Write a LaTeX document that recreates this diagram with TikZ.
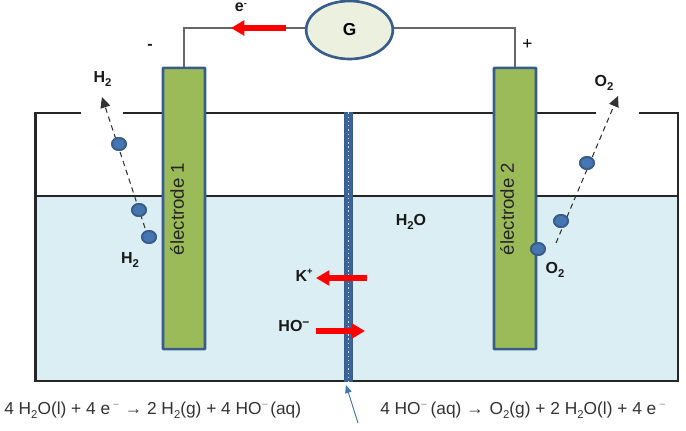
\documentclass[tikz,border=0pt]{standalone}
\usepackage{fontspec}
\setmainfont{Liberation Sans}
\usetikzlibrary{arrows.meta,shapes.geometric}
\definecolor{bluedge}{RGB}{56,93,138}
\definecolor{water}{RGB}{219,238,244}
\definecolor{elecgreen}{RGB}{155,187,89}
\definecolor{gfill}{RGB}{235,241,222}
\definecolor{molfill}{RGB}{70,118,178}
\definecolor{tankline}{RGB}{38,38,38}
\newcommand{\sbb}[1]{\raisebox{-3pt}{\fontsize{8.5}{9}\selectfont #1}}
\newcommand{\spm}{\raisebox{4.5pt}{\fontsize{8.5}{9}\selectfont\textcolor{black!40}{−}}}
\tikzset{
  tank/.style={draw=tankline,line width=1.6pt},
  electrode/.style={draw=bluedge,fill=elecgreen,line width=1.9pt,rounded corners=0.5pt,minimum width=31.5pt,minimum height=211pt,inner sep=0pt},
  molecule/.style={ellipse,draw=bluedge,fill=molfill,line width=1.4pt,minimum width=10.5pt,minimum height=9pt,inner sep=0pt},
  wire/.style={draw=black!60,line width=0.9pt},
  redarrow/.style={-{Triangle[length=10pt,width=11pt]},red,line width=4.3pt},
  gasarrow/.style={dashed,dash pattern=on 4pt off 3pt,-{Triangle[length=8pt,width=7.5pt]},draw=black!80,line width=0.8pt},
  lab/.style={font=\bfseries\fontsize{12}{14}\selectfont,text=black!90,inner sep=0pt},
  eqn/.style={font=\fontsize{13}{15}\selectfont,text=black!80,inner sep=0pt,anchor=base west},
  vlab/.style={font=\fontsize{14}{16}\selectfont,text=black!85,rotate=90,inner sep=0pt}
}
\begin{document}
\begin{tikzpicture}[x=0.75pt,y=-0.75pt]
\useasboundingbox (0,0) rectangle (686,431);
% water and tank
\fill[water] (35.5,196) rectangle (678,381);
\coordinate (tl) at (35.5,113);
\coordinate (tr) at (678,113);
\coordinate (bl) at (35.5,381);
\coordinate (br) at (678,381);
\coordinate (wl) at (35.5,196);
\coordinate (wr) at (678,196);
\coordinate (g1a) at (81,113);
\coordinate (g1b) at (123,113);
\coordinate (g2a) at (596,113);
\coordinate (g2b) at (639,113);
\draw[tank,line join=miter] (g1a) -- (tl) -- (bl) -- (br) -- (tr) -- (g2b);
\draw[tank] (g1b) -- (g2a);
\draw[tank] (wl) -- (wr);
% membrane
\node[draw=bluedge,fill=molfill!85!black,line width=1pt,minimum width=5.8pt,minimum height=201pt,inner sep=0pt] (mem) at (348.5,247) {};
\draw[white!75!molfill,line width=0.7pt,dash pattern=on 1pt off 2.2pt] (mem.north) -- (mem.south);
% electrodes
\node[electrode] (e1) at (184,208.5) {};
\node[electrode] (e2) at (515,208.5) {};
\node[vlab] (e1t) at (177,209) {électrode 1};
\node[vlab] (e2t) at (507,209) {électrode 2};
% galvanometer
\node[ellipse,draw=bluedge,fill=gfill,line width=2pt,minimum width=65pt,minimum height=43.5pt,inner sep=0pt,font=\bfseries\fontsize{13}{15}\selectfont] (G) at (349.5,30) {G};
\coordinate (c1) at (184,28);
\coordinate (c2) at (515,28);
\draw[wire] (e1.north) -- (c1) -- (G.west |- c1);
\draw[wire] (e2.north) -- (c2) -- (G.east |- c2);
% red arrows
\coordinate (ea) at (286,28); \coordinate (eb) at (231,28);
\draw[redarrow] (ea) -- (eb);
\coordinate (ka) at (367,278); \coordinate (kb) at (316,278);
\draw[redarrow] (ka) -- (kb);
\coordinate (ha) at (316,331); \coordinate (hb) at (365,331);
\draw[redarrow] (ha) -- (hb);
% gas
\node[molecule] (m1) at (119,144) {};
\node[molecule] (m2) at (139,210) {};
\node[molecule] (m3) at (149,237) {};
\node[molecule] (m4) at (587,163) {};
\node[molecule] (m5) at (561,221) {};
\node[molecule] (m6) at (538,249) {};
\coordinate (h2s) at (145,228);
\coordinate (h2e) at (102,97);
\coordinate (o2s) at (556,243);
\coordinate (o2e) at (618,96);
\draw[gasarrow] (h2s) -- (h2e);
\draw[gasarrow] (o2s) -- (o2e);
\foreach \m in {m1,m2,m3,m4,m5,m6} \node[molecule] at (\m) {};
% labels
\node[lab] (lh1) at (102.5,79) {H\sbb{2}};
\node[lab] (lo1) at (604,83) {O\sbb{2}};
\node[lab] (lh2) at (130,260) {H\sbb{2}};
\node[lab] (lo2) at (555,270) {O\sbb{2}};
\node[lab] (lw) at (411,222) {H\sbb{2}O};
\node[lab] (lk) at (304,275) {K\raisebox{5pt}{\fontsize{7}{8}\selectfont +}};
\node[lab] (lho) at (294,326) {HO\raisebox{4pt}{\fontsize{9}{9}\selectfont −}};
\node[lab] (le) at (241,7) {e\raisebox{3.5pt}{\fontsize{7}{8}\selectfont -}};
\node[lab] (lm) at (150,47) {-};
\node[inner sep=0pt,font=\fontsize{13}{15}\selectfont,text=black] (lp) at (527.5,45) {+};
% equations
\node[eqn] (eq1) at (4,414) {4 H\sbb{2}O(l) + 4 e\hspace{2pt}\spm\hspace{4pt}→ 2 H\sbb{2}(g) + 4 HO\spm\hspace{1.5pt}(aq)};
\node[eqn] (eq2) at (380,414) {4 HO\spm\hspace{2.5pt}(aq) →\hspace{4.5pt}O\sbb{2}(g) + 2 H\sbb{2}O(l) + 4 e\hspace{2pt}\spm};
% pointer to membrane
\coordinate (pa) at (358,423);
\coordinate (pb) at (346,385);
\draw[-{Triangle[length=6pt,width=5pt]},draw=molfill,fill=molfill,line width=0.7pt] (pa) -- (pb);
\end{tikzpicture}
\end{document}
